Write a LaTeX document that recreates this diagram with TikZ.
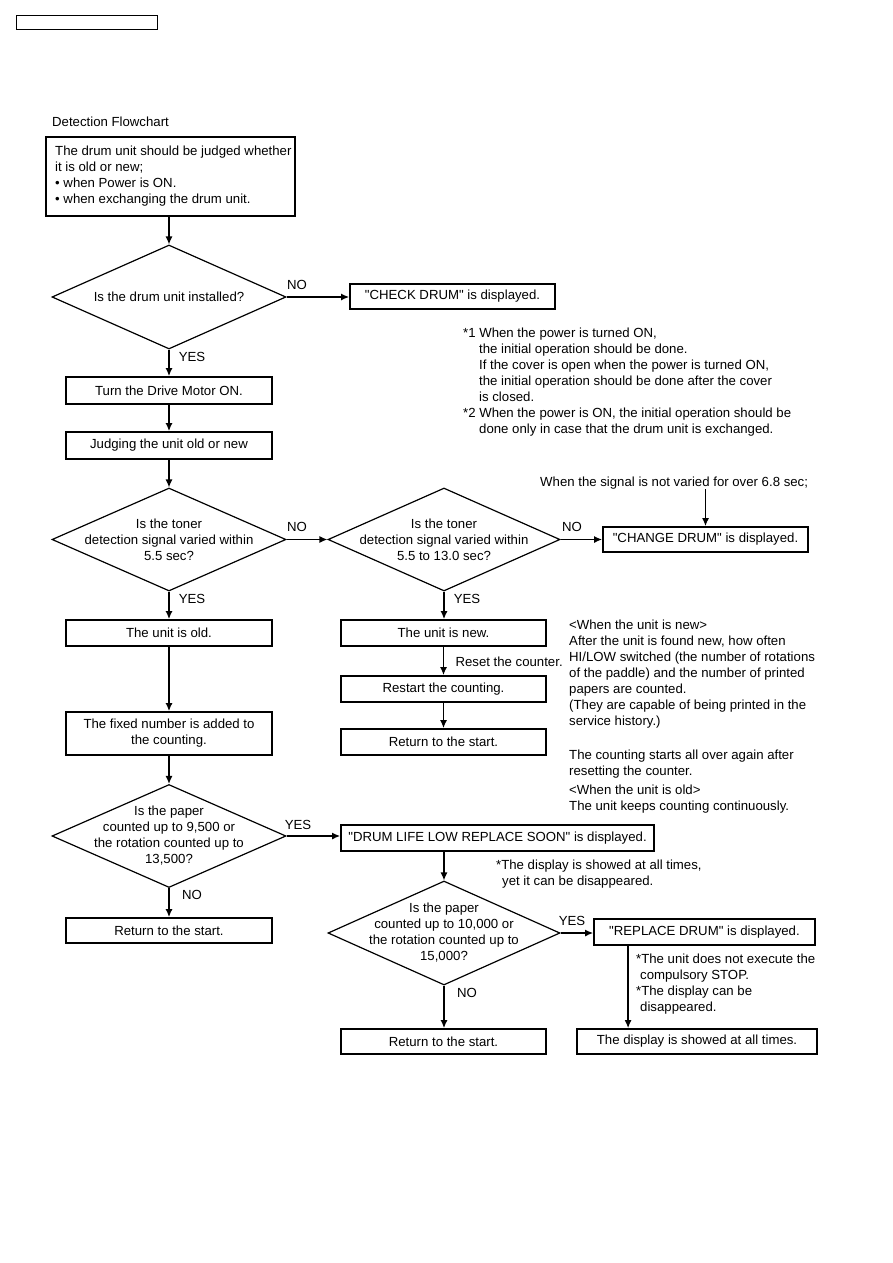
\documentclass[tikz,border=0pt]{standalone}
\usepackage{fontspec}
\setmainfont{Liberation Sans}
\usetikzlibrary{shapes.geometric,arrows.meta}
\tikzset{
	every node/.style = {font = \fontsize{13.2}{16}\selectfont},
	box/.style = {draw, line width = 1.8pt, inner sep = 0pt, minimum width = 206pt, minimum height = 26pt},
	decision/.style = {draw, diamond, line width = 1.2pt, inner sep = 0pt, minimum width = 234pt, minimum height = 104pt},
	qtext/.style = {align = center, inner sep = 0pt},
	note/.style = {align = left, anchor = north west, inner sep = 0pt},
	arr/.style = {line width = 1.3pt, -{Latex[length = 8pt, width = 7pt]}}
}
\newcommand{\qq}[1]{\textquotedbl#1\textquotedbl}
\begin{document}
\begin{tikzpicture} [x = 1pt, y = -1pt]
	\useasboundingbox (0,0) rectangle (893,1263);
	\fill [white] (0,0) rectangle (893,1263);
	\draw [line width = 1pt] (16,16) rectangle (157,30);
	\node [note, anchor = base west] (title) at (52,126.5) {Detection Flowchart};
	% left column
	\node [box, anchor = north west, minimum width = 249pt, minimum height = 79pt] (start) at (45,136) {};
	\node [note] (startt) at (55,146) {The drum unit should be judged whether\\it is old or new;\\• when Power is ON.\\• when exchanging the drum unit.};
	\node [decision] (q1) at (169,297) {};
	\node [qtext] (q1t) at (q1) {Is the drum unit installed?};
	\node [box, minimum width = 205pt, minimum height = 25pt] (chk) at (452.5,296.5) {\qq{CHECK DRUM} is displayed.};
	\node [box, minimum height = 27pt] (drive) at (169,390.5) {Turn the Drive Motor ON.};
	\node [box, minimum height = 27pt] (judge) at (169,445.5) {Judging the unit old or new};
	\node [decision, minimum height = 103pt] (q2) at (169,539.5) {};
	\node [qtext] (q2t) at (q2) {Is the toner\\detection signal varied within\\5.5 sec?};
	\node [decision, minimum width = 232pt, minimum height = 103pt] (q3) at (444,539.5) {};
	\node [qtext] (q3t) at (q3) {Is the toner\\detection signal varied within\\5.5 to 13.0 sec?};
	\node [box, minimum width = 205pt, minimum height = 25pt] (change) at (705.5,539.5) {\qq{CHANGE DRUM} is displayed.};
	\node [box] (old) at (169,633) {The unit is old.};
	\node [box, minimum width = 205pt] (new) at (443.5,633) {The unit is new.};
	\node [box, minimum width = 205pt] (restart) at (443.5,689) {Restart the counting.};
	\node [box, minimum width = 205pt] (retA) at (443.5,742) {Return to the start.};
	\node [box, minimum height = 43pt, align = center] (fixed) at (169,733.5) {The fixed number is added to\\the counting.};
	\node [decision, minimum height = 103pt] (q4) at (169,836) {};
	\node [qtext] (q4t) at (q4) {Is the paper\\counted up to 9,500 or\\the rotation counted up to\\13,500?};
	\node [box, minimum width = 313pt] (low) at (497.5,838) {\qq{DRUM LIFE LOW REPLACE SOON} is displayed.};
	\node [box, minimum height = 25pt] (retB) at (169,930.5) {Return to the start.};
	\node [decision, minimum width = 232pt] (q5) at (444,933) {};
	\node [qtext] (q5t) at (q5) {Is the paper\\counted up to 10,000 or\\the rotation counted up to\\15,000?};
	\node [box, minimum width = 221pt] (repl) at (704.5,932) {\qq{REPLACE DRUM} is displayed.};
	\node [box, minimum width = 205pt, minimum height = 25pt] (retC) at (443.5,1041.5) {Return to the start.};
	\node [box, minimum width = 240pt, minimum height = 25pt] (disp) at (697,1041.5) {The display is showed at all times.};
	% notes
	\node [note] (noteA) at (463,328) {*1 When the power is turned ON,\\\hspace*{16pt}the initial operation should be done.\\\hspace*{16pt}If the cover is open when the power is turned ON,\\\hspace*{16pt}the initial operation should be done after the cover\\\hspace*{16pt}is closed.\\*2 When the power is ON, the initial operation should be\\\hspace*{16pt}done only in case that the drum unit is exchanged.};
	\node [note, anchor = base west] (sig) at (540,486.5) {When the signal is not varied for over 6.8 sec;};
	\node [note] (noteB) at (569,620) {<When the unit is new>\\After the unit is found new, how often\\HI/LOW switched (the number of rotations\\of the paddle) and the number of printed\\papers are counted.\\(They are capable of being printed in the\\service history.)};
	\node [note] (noteC) at (569,750) {The counting starts all over again after\\resetting the counter.};
	\node [note] (noteD) at (569,785) {<When the unit is old>\\The unit keeps counting continuously.};
	\node [note] (noteE) at (496,860) {*The display is showed at all times,\\\hspace*{6pt}yet it can be disappeared.};
	\node [note] (noteF) at (636,954) {*The unit does not execute the\\\hspace*{4pt}compulsory STOP.\\*The display can be\\\hspace*{4pt}disappeared.};
	% connectors
	\draw [arr] (start.south -| q1.north) -- (q1.north);
	\draw [arr] (q1.east) -- (q1.east -| chk.west);
	\node (noA) at (297,285) {NO};
	\draw [arr] (q1.south) -- (drive.north);
	\node (yesA) at (192,357) {YES};
	\draw [arr] (drive.south) -- (judge.north);
	\draw [arr] (judge.south) -- (q2.north);
	\draw [arr] (q2.east) -- (q3.west);
	\node (noB) at (297,527) {NO};
	\draw [arr] (q3.east) -- (change.west);
	\node (noC) at (572,527) {NO};
	\draw [arr] (sig.south -| change.north) -- (change.north);
	\draw [arr] (q2.south) -- (old.north);
	\node (yesB) at (192,599) {YES};
	\draw [arr] (q3.south) -- (q3.south |- new.north);
	\node (yesC) at (467,599) {YES};
	\draw [arr] (old.south) -- (fixed.north);
	\draw [arr] (new.south) -- (restart.north);
	\node [anchor = west] (reset) at (452,662) {Reset the counter.};
	\draw [arr] (restart.south) -- (retA.north);
	\draw [arr] (fixed.south) -- (q4.north);
	\draw [arr] (q4.east) -- (q4.east -| low.west);
	\node (yesD) at (298,825) {YES};
	\draw [arr] (q4.south) -- (retB.north);
	\node (noD) at (192,895) {NO};
	\draw [arr] (q5.north |- low.south) -- (q5.north);
	\draw [arr] (q5.east) -- (q5.east -| repl.west);
	\node (yesE) at (572,921) {YES};
	\draw [arr] (q5.south) -- (q5.south |- retC.north);
	\node (noE) at (467,993) {NO};
	\draw [arr] ([xshift = 35pt]repl.south west) -- ([xshift = 35pt]repl.south west |- disp.north);
\end{tikzpicture}
\end{document}
